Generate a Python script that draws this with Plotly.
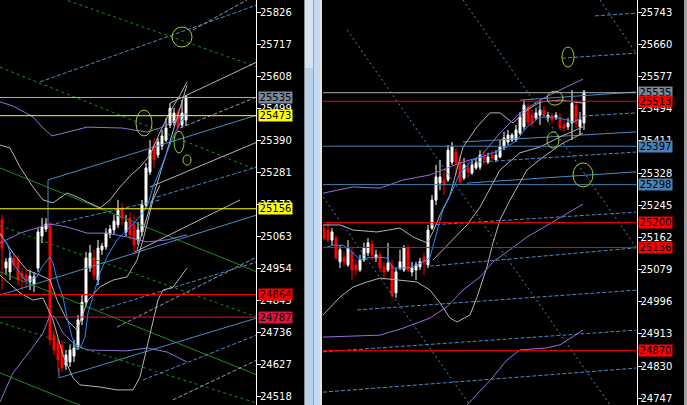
import plotly.graph_objects as go

# ---------------- LEFT PANEL DATA ----------------
L_idx = list(range(47))
L_open = [25118,24954,24941,24988,24981,24937,24930,24907,24900,24954,25063,25087,25097,24726,24702,24692,24624,24634,24654,24688,24777,24838,24954,24988,24913,25016,25026,25070,25084,25101,25159,25077,25124,25101,25050,25077,25169,25281,25373,25339,25370,25390,25441,25451,25485,25441,25458]
L_high = [25135,24988,25009,25005,24999,24954,24947,24947,24941,25090,25124,25124,25111,24743,24716,24709,24675,24692,24709,24794,24862,25009,25033,25016,25050,25039,25090,25101,25135,25186,25176,25135,25145,25135,25111,25186,25312,25390,25397,25397,25424,25465,25516,25499,25499,25526,25543]
L_low = [24879,24930,24913,24947,24896,24879,24886,24879,24872,24941,25039,25077,24692,24658,24600,24600,24607,24617,24634,24675,24760,24828,24941,24913,24896,24999,25016,25056,25067,25090,25101,25063,25050,24999,25033,25063,25159,25271,25295,25329,25356,25383,25431,25438,25417,25431,25438]
L_close = [25022,24975,24988,24964,24913,24920,24910,24927,24924,25077,25094,25104,24709,24675,24641,24614,24658,24675,24682,24777,24838,24988,25005,24930,25022,25029,25073,25087,25114,25152,25124,25111,25067,25033,25084,25169,25295,25356,25322,25383,25404,25431,25499,25482,25434,25482,25537]

L_ticks = [25826,25717,25608,25499,25390,25281,25172,25063,24954,24845,24736,24627,24518]

# indicator polylines (candle index, price)
L_pu_x = [-0.5,2.75,7.75,10.25,12.5,16.25,21.25,30,36.25,39.5,42.75,45]
L_pu_y = [25520,25506,25469,25431,25404,25417,25434,25431,25417,25431,25451,25472]
L_pm_x = [-0.5,4.5,9.5,12,16.25,21.25,26.25,31.25,36.25,41.25,46.25]
L_pm_y = [25039,25073,25094,25104,25094,25073,25073,25060,25043,25050,25067]
L_pl_x = [-0.5,2.75,7.75,10.25,12,13.25,15.25,17.75,21.25,31.25,36.25,41.25,46.25]
L_pl_y = [24498,24597,24685,24733,24794,24787,24733,24699,24675,24672,24682,24668,24634]

L_gu_x = [-0.5,2,4.5,7.75,10.25,12.75,16.25,18.75,24.5,27,29.5,32,34.5,37,39.5,42,44.5,46.25]
L_gu_y = [25373,25363,25298,25230,25186,25176,25210,25196,25159,25186,25230,25268,25298,25339,25417,25486,25543,25588]
L_gm_x = [-0.5,2.75,6.25,9.5,12,13.75,16.25,18.75,21.5,24.5,27.75,31.25,33.75,35.25,36.5,37.75,39.5]
L_gm_y = [25073,25005,24947,24930,24913,24845,24777,24743,24845,24890,24913,24924,24981,25050,25118,25186,25237]
L_gl_x = [-0.5,4.5,7.75,10.25,12.75,15.25,17.75,19.5,24.5,28.75,32.75,34.5,36.25,37.75,39,40.25,42.75,46.25]
L_gl_y = [24930,24869,24845,24852,24777,24658,24580,24556,24549,24539,24539,24583,24685,24777,24845,24879,24889,24954]

L_ma_x = [-0.5,1.25,2.75,4.5,5.75,7,8.75,10,12,12.75,14,15.25,16.25,17.5,18.75,19.5,20.75,21.5,22.75,24,24.5,26.25,28.75,31.25,33.75,36.25,37.75,39.5,41.25,42.75,44.5,46.25]
L_ma_y = [25067,25039,24971,24937,24913,24913,24924,24958,24992,24971,24903,24855,24787,24719,24675,24682,24719,24801,24855,24913,24937,24992,25050,25084,25118,25162,25230,25288,25346,25400,25448,25482]

# trend lines: (index0, price0, index1, price1)
L_green_solid = [(-0.5,25295,63.75,24941),(-0.5,24941,63.75,24590),(-0.5,24597,63.75,24242)]
L_green_dash = [(-0.5,25946,63.75,25639),(-0.5,25638,63.75,25288),(-0.5,25098,63.75,24787),(-0.5,24769,63.75,24494)]
L_blue_solid = [(11.5,25254,63.75,25475),(11.5,25254,11.5,25090),(-0.5,24862,63.75,25135),(14.25,24580,63.75,24784),(14.25,24614,14.25,24580)]
L_blue_dash = [(9.5,25588,63.75,25850),(38.75,25196,63.75,25298),(12,25101,39.5,25186),(24.5,24811,63.75,24975),(35.25,24573,63.75,24726)]
L_grey_dash = [(47.75,25765,61.25,25867),(44.5,25431,63.75,25537),(28.75,24753,63.75,24992),(42.75,24505,63.75,24641)]
L_grey_solid = [(42,25516,63.75,25656),(37,25230,63.75,25383),(33.75,25016,46.25,25577),(33.25,25009,59.5,25186)]

L_levels = [25535,25473,25156,24864,24787]
L_level_colors = ["#A8B0B8","#FFFF00","#FFFF00","#FF0000","#DC143C"]
L_label_colors = ["#778899","#FFFF00","#FFFF00","#FF0000","#DC143C"]

# ellipses: (center index, center price, radius index, radius price)
L_ellipses = [(45,25741,2.5,34),(35.5,25448,2,44),(44.25,25383,1.25,37),(46.25,25322,1,17)]

# ---------------- RIGHT PANEL DATA ----------------
R_idx = list(range(66))
R_open = [25186,25181,25155,25160,25099,25111,25091,25124,25091,25078,
          25104,25122,25145,25109,25117,25086,25078,25091,25019,25083,
          25078,25135,25073,25078,25086,25111,25091,25186,25258,25302,
          25310,25310,25356,25382,25356,25315,25343,25328,25341,25343,
          25369,25356,25374,25362,25369,25395,25408,25413,25413,25431,
          25447,25498,25477,25470,25477,25490,25470,25475,25470,25472,
          25452,25447,25457,25503,25447,25457]
R_high = [25194,25202,25186,25168,25142,25124,25155,25135,25104,25117,
          25148,25160,25155,25130,25124,25099,25148,25104,25083,25130,
          25142,25142,25099,25099,25109,25122,25194,25271,25349,25362,
          25336,25400,25408,25392,25374,25367,25356,25362,25367,25387,
          25382,25380,25387,25387,25413,25434,25439,25431,25452,25485,
          25516,25508,25490,25496,25516,25501,25485,25483,25485,25483,
          25465,25470,25542,25516,25485,25542]
R_low = [25155,25150,25142,25104,25083,25088,25086,25052,25065,25073,
         25099,25114,25104,25099,25073,25052,25073,25006,25006,25078,
         25073,25073,25062,25052,25078,25065,25083,25181,25245,25284,
         25271,25305,25349,25323,25297,25310,25315,25323,25336,25336,
         25349,25351,25362,25356,25367,25387,25400,25408,25408,25426,
         25439,25452,25447,25465,25452,25470,25459,25457,25465,25439,
         25434,25439,25413,25444,25426,25439]
R_close = [25160,25155,25176,25109,25130,25099,25135,25078,25078,25104,
           25135,25148,25117,25117,25083,25073,25096,25013,25073,25099,
           25135,25078,25083,25091,25099,25096,25181,25258,25318,25318,
           25297,25387,25395,25354,25305,25349,25331,25349,25354,25374,
           25362,25369,25367,25374,25395,25418,25426,25426,25439,25472,
           25503,25459,25457,25483,25490,25477,25477,25465,25477,25444,
           25444,25457,25508,25457,25465,25537]

R_ticks = [25743,25660,25577,25494,25411,25328,25245,25162,25079,24996,24913,24830,24747]

R_pu_x = [-0.25,7.25,14,19.75,26.5,30.75,34,39,44,49,54,59,64.75]
R_pu_y = [25276,25292,25289,25310,25323,25341,25354,25369,25431,25483,25516,25542,25570]
R_pm_x = [-0.25,14,19.75,26.5,30.75,34.75,39,42.25,46.5,50.75,57.25,64.75]
R_pm_y = [24905,24910,24928,24954,24983,25026,25060,25099,25130,25163,25202,25248]
R_pl_x = [32.75,35.75,42.25,45.75,49,55.75,59,64.75]
R_pl_y = [24691,24730,24802,24846,24872,24877,24885,24923]

R_gu_x = [-0.25,4,7.25,13.25,19,22.25,25.75,27.25,29,31.5,34.75,38.25,41.5,44,47.25,50.75,54,59,64.75]
R_gu_y = [25194,25194,25181,25176,25186,25163,25148,25176,25220,25271,25395,25447,25483,25483,25457,25490,25511,25516,25508]
R_gl_x = [-0.25,4,7.25,10.75,14,23.25,26.5,29,31.5,33.25,36.5,38.25,40.75,42.25,44,46.5,50.75,54.75,59.75,64.75]
R_gl_y = [24962,25008,25034,25047,25057,25047,25026,24993,24954,24944,24962,25008,25086,25148,25207,25258,25336,25369,25405,25431]
R_gm_x = [27.25,31.5,35.75,39,44,49,54,59,64.75]
R_gm_y = [25104,25148,25194,25240,25336,25380,25395,25421,25447]

R_ma_x = [0.75,2.25,4.75,6.5,9,10.75,13.25,15.75,17.25,19.75,22.25,24,25.75,26.5,28.25,29.75,31,34,37.25,42.25,45.75,48.25,50.75,54,57.25,60.75,62.25,64.75]
R_ma_y = [25137,25142,25142,25130,25104,25109,25111,25109,25083,25083,25086,25096,25104,25111,25173,25233,25258,25328,25362,25380,25395,25413,25447,25472,25472,25465,25459,25472]

R_blue_solid = [(49,25516,78,25537),(34.75,25408,78,25434),(35.75,25302,78,25331)]
R_blue_dash = [(67.75,25733,78,25740),(59.5,25624,78,25637),(64.75,25475,78,25483),(38.25,25356,78,25382),
               (26.5,25194,78,25227),(26.5,25088,78,25135),(8.25,24975,78,25026),(-0.25,24867,78,24923),(-0.25,24763,78,24825)]
R_blue_dot = [(5.75,25697,71.5,24730),(34.75,25774,78,25137),(69,25774,78,25637),(-0.25,25266,36.5,24730)]

R_levels = [25535,25513,25397,25298,25200,25136,24870]
R_level_colors = ["#A8B0B8","#FF0000","#4682B4","#4682B4","#FF0000","#FF0000","#FF0000"]
R_label_colors = ["#778899","#FF0000","#4682B4","#4682B4","#FF0000","#FF0000","#FF0000"]

R_ellipses = [(61,25627,1.5,26),(57.75,25521,2,18),(57.25,25413,1.5,21),(64.75,25323,2.5,31)]

# ---------------- FIGURE ----------------
W, H = 687, 405
fig = go.Figure()

FONT = "DejaVu Sans"

def add_poly(xs, ys, color, xa, ya, dash="solid", width=1):
    fig.add_trace(go.Scatter(x=xs, y=ys, mode="lines", xaxis=xa, yaxis=ya,
                             line=dict(color=color, width=width, dash=dash),
                             hoverinfo="skip", showlegend=False))

def add_segments(segs, color, xa, ya, dash="solid"):
    xs, ys = [], []
    for a, b, c, d in segs:
        xs += [a, c, None]
        ys += [b, d, None]
    add_poly(xs, ys, color, xa, ya, dash)

GREEN = "#1C8C1C"
STEEL = "#4A8AC4"
GREYL = "#B4B4B4"
GREYD = "#8E9AAE"
PURPLE = "#9370DB"
DODGER = "#1E90FF"

candle_style = dict(
    increasing=dict(line=dict(color="white", width=1), fillcolor="white"),
    decreasing=dict(line=dict(color="#FF0000", width=1), fillcolor="#FF0000"),
    hoverinfo="skip", showlegend=False)

fig.add_trace(go.Candlestick(x=L_idx, open=L_open, high=L_high, low=L_low, close=L_close,
                             xaxis="x", yaxis="y", **candle_style))
fig.add_trace(go.Candlestick(x=R_idx, open=R_open, high=R_high, low=R_low, close=R_close,
                             xaxis="x2", yaxis="y2", **candle_style))

# left lines
add_segments(L_green_solid, GREEN, "x", "y")
add_segments(L_green_dash, GREEN, "x", "y", "3px,3px")
add_segments(L_blue_solid, STEEL, "x", "y")
add_segments(L_blue_dash, STEEL, "x", "y", "4px,2px")
add_segments(L_grey_dash, GREYD, "x", "y", "4px,2px")
add_segments(L_grey_solid, GREYL, "x", "y")
add_poly(L_gu_x, L_gu_y, GREYL, "x", "y")
add_poly(L_gm_x, L_gm_y, GREYL, "x", "y")
add_poly(L_gl_x, L_gl_y, GREYL, "x", "y")
add_poly(L_pu_x, L_pu_y, PURPLE, "x", "y")
add_poly(L_pm_x, L_pm_y, PURPLE, "x", "y")
add_poly(L_pl_x, L_pl_y, PURPLE, "x", "y")
add_poly(L_ma_x, L_ma_y, DODGER, "x", "y")

# right lines
add_segments(R_blue_dot, STEEL, "x2", "y2", "2px,3px")
add_segments(R_blue_dash, STEEL, "x2", "y2", "4px,2px")
add_segments(R_blue_solid, STEEL, "x2", "y2")
add_poly(R_gu_x, R_gu_y, GREYL, "x2", "y2")
add_poly(R_gl_x, R_gl_y, GREYL, "x2", "y2")
add_poly(R_gm_x, R_gm_y, GREYL, "x2", "y2")
add_poly(R_pu_x, R_pu_y, PURPLE, "x2", "y2")
add_poly(R_pm_x, R_pm_y, PURPLE, "x2", "y2")
add_poly(R_pl_x, R_pl_y, PURPLE, "x2", "y2")
add_poly(R_ma_x, R_ma_y, DODGER, "x2", "y2")

shapes = []
annotations = []

def levels(vals, cols, labcols, xref, yref, lab_x):
    for v, c, lc in zip(vals, cols, labcols):
        shapes.append(dict(type="line", xref=xref + " domain", x0=0, x1=1, yref=yref, y0=v, y1=v,
                           line=dict(color=c, width=1), layer="above"))
        annotations.append(dict(xref="paper", x=lab_x / W, xanchor="left", yref=yref, y=v, yanchor="middle",
                                text=str(v), showarrow=False, bgcolor=lc, width=33, height=11,
                                borderpad=0, font=dict(family=FONT, size=10, color="black")))

levels(L_levels, L_level_colors, L_label_colors, "x", "y", 258)
levels(R_levels, R_level_colors, R_label_colors, "x2", "y2", 638)

def ellipses(items, xref, yref):
    for cx, cy, rx, ry in items:
        shapes.append(dict(type="circle", xref=xref, yref=yref, x0=cx - rx, x1=cx + rx,
                           y0=cy - ry, y1=cy + ry, line=dict(color="#9ACD32", width=1), layer="above"))

ellipses(L_ellipses, "x", "y")
ellipses(R_ellipses, "x2", "y2")

def prect(x0, x1, y0, y1, col):
    shapes.append(dict(type="rect", xref="paper", yref="paper", x0=x0 / W, x1=x1 / W,
                       y0=y0, y1=y1, fillcolor=col, line=dict(width=0), layer="above"))

prect(304, 305, 0, 1, "#8A8A8A")
prect(305, 313, 0, 1, "#B9D1EA")
prect(305, 313, 1 - 68 / H, 1, "#D3E3F4")
prect(313, 314, 0, 1, "#86A9D2")
prect(314, 320, 0, 1, "#C4DAF0")
prect(320, 322, 0, 1, "#E4E4E4")
prect(684, 687, 0, 1, "#A0A0A0")

axis_common = dict(showgrid=False, zeroline=False, side="right", ticks="outside", ticklen=4,
                   tickcolor="white", tickwidth=1, showline=True, linecolor="white", linewidth=1,
                   ticklabelstandoff=-3,
                   tickfont=dict(family=FONT, size=10, color="white"), fixedrange=True)

fig.update_layout(
    width=W, height=H, margin=dict(l=0, r=0, t=0, b=0),
    paper_bgcolor="black", plot_bgcolor="black", showlegend=False,
    xaxis=dict(domain=[0, 256 / W], range=[-0.5, 63.5], visible=False,
               rangeslider=dict(visible=False), fixedrange=True),
    yaxis=dict(domain=[0, 1], range=[24487.6, 25867], anchor="x",
               tickvals=L_ticks, ticktext=[str(t) for t in L_ticks], **axis_common),
    xaxis2=dict(domain=[323 / W, 636.5 / W], range=[-0.25, 78.125], visible=False,
                rangeslider=dict(visible=False), fixedrange=True),
    yaxis2=dict(domain=[0, 1], range=[24729.9, 25774], anchor="x2",
                tickvals=R_ticks, ticktext=[str(t) for t in R_ticks], **axis_common),
    shapes=shapes, annotations=annotations,
)

fig.write_html("out.html", config={"displayModeBar": False},
               post_script="document.body.style.margin='0';document.body.style.padding='0';"
                           "document.body.style.background='black';document.body.style.overflow='hidden';")
